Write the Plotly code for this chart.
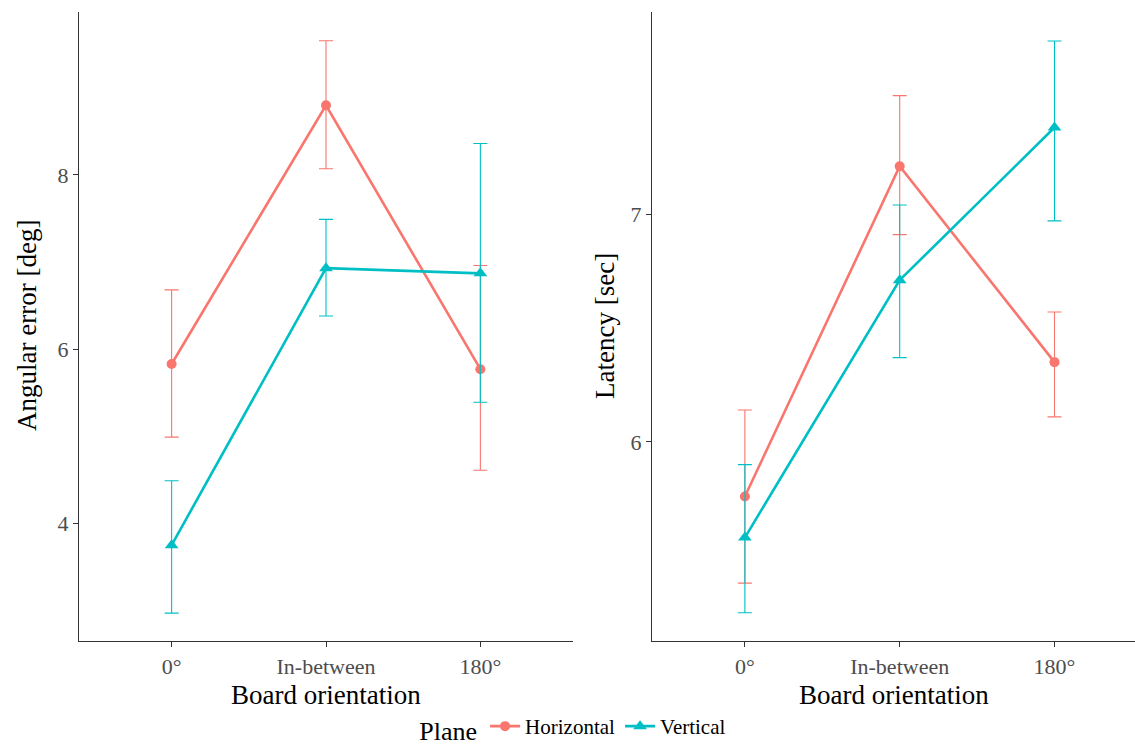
import plotly.graph_objects as go
from plotly.subplots import make_subplots

categories = ["0°", "In-between", "180°"]

# Left panel: Angular error [deg]
ang_h = [5.83, 8.80, 5.77]
ang_h_lo = [4.99, 8.07, 4.61]
ang_h_hi = [6.68, 9.54, 6.96]
ang_v = [3.75, 6.93, 6.87]
ang_v_lo = [2.97, 6.38, 5.39]
ang_v_hi = [4.49, 7.49, 8.36]

# Right panel: Latency [sec]
lat_h = [5.76, 7.21, 6.35]
lat_h_lo = [5.38, 6.91, 6.11]
lat_h_hi = [6.14, 7.52, 6.57]
lat_v = [5.58, 6.71, 7.38]
lat_v_lo = [5.25, 6.37, 6.97]
lat_v_hi = [5.90, 7.04, 7.76]

RED = "#F8766D"
TEAL = "#00BFC4"
FONT = "Liberation Serif"

fig = make_subplots(rows=1, cols=2)

def add(col, y, lo, hi, color, symbol, name, size, show):
    fig.add_trace(go.Scatter(
        x=categories, y=y, mode="lines+markers", name=name,
        legendgroup=name, showlegend=show,
        line=dict(color=color, width=2.6),
        marker=dict(color=color, symbol=symbol, size=size),
        error_y=dict(type="data", symmetric=False,
                     array=[h - v for h, v in zip(hi, y)],
                     arrayminus=[v - l for v, l in zip(y, lo)],
                     color=color, thickness=1.1, width=7),
    ), row=1, col=col)

add(1, ang_h, ang_h_lo, ang_h_hi, RED, "circle", "Horizontal", 10, True)
add(1, ang_v, ang_v_lo, ang_v_hi, TEAL, "triangle-up", "Vertical", 12, True)
add(2, lat_h, lat_h_lo, lat_h_hi, RED, "circle", "Horizontal", 10, False)
add(2, lat_v, lat_v_lo, lat_v_hi, TEAL, "triangle-up", "Vertical", 12, False)

W, H = 1135, 751
T, B = 12, 110
axis_common = dict(showline=True, linecolor="#333333", linewidth=1.2,
                   ticks="outside", ticklen=5, tickcolor="#333333",
                   showgrid=False, zeroline=False, automargin=False,
                   tickfont=dict(family=FONT, size=22, color="#4D4D4D"))

fig.update_xaxes(**axis_common, type="category", range=[-0.6, 2.6],
                 domain=[79 / W, 573 / W], row=1, col=1)
fig.update_xaxes(**axis_common, type="category", range=[-0.6, 2.52],
                 domain=[652 / W, 1.0], row=1, col=2)
fig.update_yaxes(**axis_common, range=[2.65, 9.87], tickvals=[4, 6, 8],
                 row=1, col=1)
fig.update_yaxes(**axis_common, range=[5.126, 7.887], tickvals=[6, 7],
                 row=1, col=2)

plot_h = H - T - B
def ypaper(py):
    return (H - B - py) / plot_h

ann = []
for xc in [(79 + 573) / 2 / W, (652 + 1135) / 2 / W]:
    ann.append(dict(text="Board orientation", x=xc, y=ypaper(695),
                    xref="paper", yref="paper", showarrow=False,
                    font=dict(family=FONT, size=27, color="black"),
                    xanchor="center", yanchor="middle"))
ann.append(dict(text="Angular error [deg]", x=27 / W, y=ypaper(326), xref="paper", yref="paper",
                showarrow=False, textangle=-90, font=dict(family=FONT, size=27, color="black"),
                xanchor="center", yanchor="middle"))
ann.append(dict(text="Latency [sec]", x=605 / W, y=ypaper(326), xref="paper", yref="paper",
                showarrow=False, textangle=-90, font=dict(family=FONT, size=27, color="black"),
                xanchor="center", yanchor="middle"))

fig.update_layout(
    width=W, height=H,
    margin=dict(l=0, r=0, t=T, b=B),
    paper_bgcolor="white", plot_bgcolor="white",
    annotations=ann,
    showlegend=True,
    legend=dict(orientation="h", x=0.506, xanchor="center",
                y=ypaper(750), yanchor="bottom",
                title=dict(text="Plane", font=dict(family=FONT, size=26, color="black")),
                font=dict(family=FONT, size=21, color="black"),
                itemwidth=30, tracegroupgap=0),
)

fig.write_html("out.html", config={"displayModeBar": False},
               post_script="document.body.style.margin='0';document.body.style.overflow='hidden';")
